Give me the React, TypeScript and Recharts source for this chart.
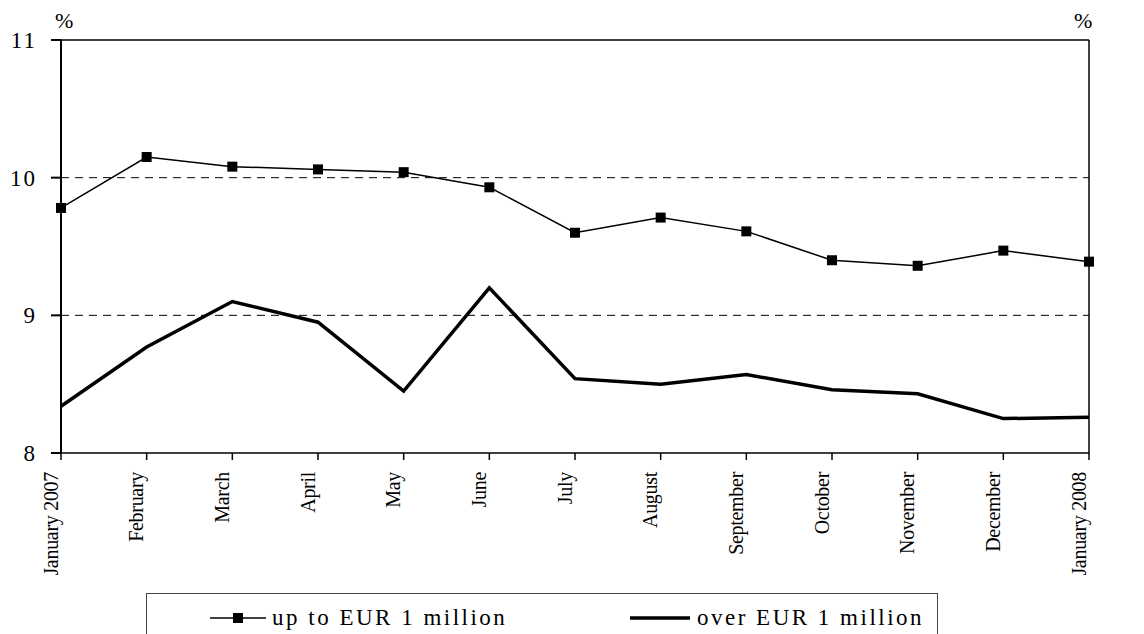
import { Line, LineChart, ReferenceLine, XAxis, YAxis } from "recharts";

const months = [
  "January 2007",
  "February",
  "March",
  "April",
  "May",
  "June",
  "July",
  "August",
  "September",
  "October",
  "November",
  "December",
  "January 2008"
];
const upTo1m = [9.78, 10.15, 10.08, 10.06, 10.04, 9.93, 9.6, 9.71, 9.61, 9.4, 9.36, 9.47, 9.39];
const over1m = [8.34, 8.77, 9.1, 8.95, 8.45, 9.2, 8.54, 8.5, 8.57, 8.46, 8.43, 8.25, 8.26];
const yTicks = [8, 9, 10, 11];

const data = months.map((m, i) => ({ month: m, small: upTo1m[i], large: over1m[i] }));

const serif = "Liberation Serif";

function MonthTick({ x, y, payload }: any) {
  return (
    <text
      transform={`translate(${x - 3.5},${y + 10}) rotate(-90)`}
      textAnchor="end"
      style={{ fontFamily: serif, fontSize: 20, letterSpacing: -0.3 }}
      fill="#000"
    >
      {payload.value}
    </text>
  );
}

function ValueTick({ x, y, payload, anchor }: any) {
  return (
    <text
      x={x}
      y={y}
      dy={8}
      textAnchor={anchor}
      style={{ fontFamily: serif, fontSize: 23, letterSpacing: 2 }}
      fill="#000"
    >
      {payload.value}
    </text>
  );
}

function Square({ cx, cy }: any) {
  return <rect x={cx - 5} y={cy - 5} width={10} height={10} fill="#000" />;
}

const txt = { position: "absolute" as const, fontFamily: serif, whiteSpace: "nowrap" as const, lineHeight: "24px" };

export default function App() {
  return (
    <div style={{ position: "absolute", left: 0, top: 0, width: 1144, height: 634, background: "#fff" }}>
      <LineChart width={1144} height={634} data={data} margin={{ top: 40, right: 0, bottom: 0, left: 0 }}>
        <XAxis
          dataKey="month"
          interval={0}
          tick={<MonthTick />}
          tickSize={7}
          height={181}
          stroke="#000"
          strokeWidth={1.5}
        />
        <YAxis
          yAxisId="l"
          domain={[8, 11]}
          ticks={yTicks}
          width={61}
          tickSize={10}
          tickMargin={14}
          tick={<ValueTick anchor="end" />}
          stroke="#000"
          strokeWidth={2}
        />
        <YAxis
          yAxisId="r"
          orientation="right"
          domain={[8, 11]}
          ticks={yTicks}
          width={55}
          tickSize={10}
          tickMargin={12}
          tick={<ValueTick anchor="start" />}
          stroke="#000"
          strokeWidth={1.5}
        />
        <ReferenceLine yAxisId="l" y={11} stroke="#000" strokeWidth={1.5} />
        <ReferenceLine yAxisId="l" y={10} stroke="#000" strokeDasharray="8 6" />
        <ReferenceLine yAxisId="l" y={9} stroke="#000" strokeDasharray="8 6" />
        <Line
          yAxisId="l"
          dataKey="large"
          stroke="#000"
          strokeWidth={3.5}
          dot={false}
          type="linear"
          isAnimationActive={false}
        />
        <Line
          yAxisId="l"
          dataKey="small"
          stroke="#000"
          strokeWidth={1.5}
          dot={<Square />}
          type="linear"
          isAnimationActive={false}
        />
      </LineChart>

      <span style={{ ...txt, left: 55, top: 9, fontSize: 22 }}>%</span>
      <span style={{ ...txt, left: 1074, top: 9, fontSize: 22 }}>%</span>

      <div
        style={{
          position: "absolute",
          left: 146,
          top: 593,
          width: 792,
          height: 60,
          border: "1.5px solid #444",
          borderBottom: "none",
          boxSizing: "border-box"
        }}
      />
      <svg style={{ position: "absolute", left: 210, top: 611 }} width={56} height={14}>
        <line x1={0} y1={7} x2={56} y2={7} stroke="#000" strokeWidth={1.5} />
        <rect x={23} y={2} width={10} height={10} fill="#000" />
      </svg>
      <span style={{ ...txt, left: 272, top: 606, fontSize: 23, letterSpacing: 2.5 }}>up to EUR 1 million</span>
      <svg style={{ position: "absolute", left: 630, top: 611 }} width={60} height={14}>
        <line x1={0} y1={7} x2={60} y2={7} stroke="#000" strokeWidth={3.5} />
      </svg>
      <span style={{ ...txt, left: 697, top: 606, fontSize: 23, letterSpacing: 2.5 }}>over EUR 1 million</span>
    </div>
  );
}
